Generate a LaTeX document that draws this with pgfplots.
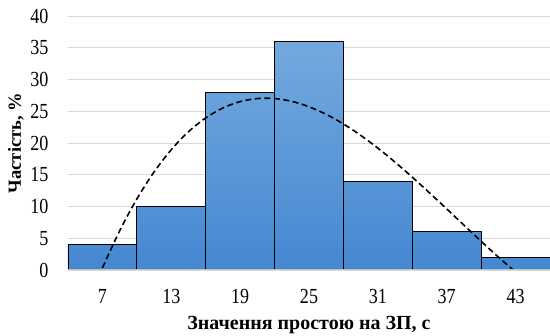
\documentclass[border=0pt]{standalone}
\usepackage{pgfplots}
\pgfplotsset{compat=1.18}
\usepackage{fontspec}
\setmainfont{Liberation Serif}
\newfontfamily\tickfont[FakeStretch=0.84]{Liberation Serif}
\usetikzlibrary{calc}

\definecolor{bartop}{RGB}{116,169,223}
\definecolor{barbot}{RGB}{68,136,209}
\definecolor{gridc}{RGB}{217,217,217}
\definecolor{axisc}{RGB}{191,191,191}

\begin{document}
\begin{tikzpicture}
\begin{axis}[
  name=ax,
  scale only axis,
  width=482pt, height=254pt,
  xmin=-0.5, xmax=6.5,
  ymin=0, ymax=40,
  ytick={0,5,...,40},
  xtick={0,1,2,3,4,5,6},
  xticklabels={7,13,19,25,31,37,43},
  major tick length=0pt,
  ymajorgrids,
  grid style={gridc, line width=0.8pt},
  axis line style={draw=none},
  axis x line*=bottom,
  axis y line*=left,
  tick label style={font=\tickfont\fontsize{21.5}{21.5}\selectfont},
  /pgf/number format/assume math mode=true,
  yticklabel style={anchor=east, xshift=-16pt},
  xticklabel style={anchor=base, yshift=-34pt},
  xlabel={\textbf{Значення простою на ЗП, с}},
  ylabel={\textbf{Частість, \%}},
  every axis x label/.style={at={(rel axis cs:0.5,0)}, anchor=base,
    yshift=-59pt, font=\fontsize{20}{20}\selectfont},
  every axis y label/.style={at={(rel axis cs:0,0.5)}, rotate=90,
    anchor=center, yshift=52pt, font=\fontsize{18.5}{18.5}\selectfont},
  clip=true,
]
\addplot[ybar, bar width=1, draw=black, line width=0.8pt,
  top color=bartop, bottom color=barbot]
  coordinates {(0,4) (1,10) (2,28) (3,36) (4,14) (5,6) (6,2)};

% polynomial trend of the frequencies
\addplot[black, line width=1.6pt, dash pattern=on 6pt off 3.5pt, smooth]
  coordinates {
  (0,0.33) (0.25,6.17) (0.5,11.19) (0.75,15.44) (1,18.95) (1.25,21.78)
  (1.5,23.95) (1.75,25.52) (2,26.52) (2.25,27.00) (2.5,27.0) (2.75,26.56)
  (3,25.71) (3.25,24.51) (3.5,23.0) (3.75,21.21) (4,19.19) (4.25,16.98)
  (4.5,14.62) (4.75,12.15) (5,9.62) (5.25,7.06) (5.5,4.52) (5.75,2.04)
  (6,-0.33)};

\draw[axisc, line width=1.5pt] (axis cs:-0.5,0) -- (axis cs:6.5,0);
\end{axis}
\pgfresetboundingbox
\path[use as bounding box] ($(ax.south west)+(-68pt,-66pt)$) rectangle ($(ax.north east)+(0pt,16pt)$);
\end{tikzpicture}
\end{document}
